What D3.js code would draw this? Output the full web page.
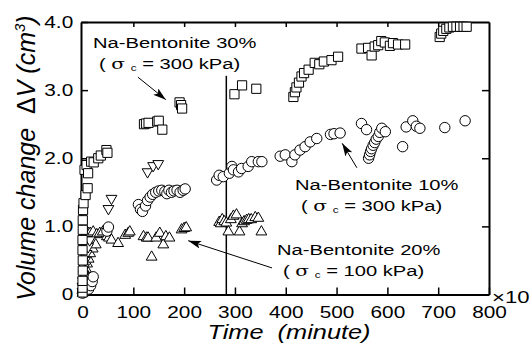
<!DOCTYPE html>
<html>
<head>
<meta charset="utf-8">
<script src="https://cdn.jsdelivr.net/npm/d3@7"></script>
<style>
body { margin: 0; background: #fff; }
text { font-family: "Liberation Sans", Arial, sans-serif; fill: #000; }
</style>
</head>
<body>
<svg id="chart" width="531" height="347"></svg>
<script>
// axis ticks (time in x10 minutes, volume in cm3)
var xTicks = [0, 100, 200, 300, 400, 500, 600, 700, 800];
var yTicks = [0, 1, 2, 3, 4];

// Na-Bentonite 30% (sigma c = 300 kPa) - squares
var bent30 = [[0,0.03],[0,0.1],[0,0.2],[0.5,0.35],[0.5,0.5],[0,0.65],[0,0.8],[0.5,0.95],[0.5,1.09],[1,1.24],[2,1.34],[6,1.46],[10,1.56],
  [4,1.83],[8,1.9],[11,1.78],[17,1.95],[22,1.94],[31,2.0],[36,2.04],[47,2.12],[49,2.08],
  [121,2.5],[125,2.51],[130,2.52],[147,2.54],[150,2.55],[157,2.42],[191,2.82],[194,2.78],[196,2.73],
  [299,2.94],[314,3.07],[342,3.02],
  [415,2.9],[418,2.97],[421,3.04],[426,3.11],[431,3.2],[436,3.25],[445,3.3],[457,3.4],[466,3.38],[475,3.42],[490,3.44],[503,3.49],
  [549,3.61],[562,3.62],[569,3.51],[575,3.64],[582,3.66],[588,3.72],[595,3.7],[605,3.65],[611,3.69],[621,3.67],[635,3.67],
  [703,3.78],[706,3.83],[710,3.87],[716,3.9],[722,3.92],[729,3.93],[736,3.93],[743,3.93],[750,3.93],[756,3.93]];

// Na-Bentonite 10% (sigma c = 300 kPa) - circles
var bent10 = [[0,0.02],[3,0.04],[8,0.07],[12,0.08],[16,0.13],[19,0.19],[21,0.26],[48,0.93],[51,0.99],
  [110,1.32],[114,1.25],[118,1.22],[124,1.3],[128,1.38],[133,1.43],[138,1.47],[144,1.5],[150,1.52],[156,1.53],[162,1.51],[166,1.48],
  [170,1.53],[175,1.5],[180,1.52],[186,1.53],[192,1.5],[198,1.53],[202,1.55],
  [264,1.68],[269,1.75],[277,1.73],[289,1.78],[294,1.88],[297,1.83],[307,1.8],[313,1.85],[326,1.88],[333,1.95],[346,1.95],[353,1.95],
  [389,2.03],[399,2.05],[412,1.95],[418,2.05],[428,2.12],[438,2.17],[448,2.24],[461,2.29],
  [488,2.35],[495,2.36],[507,2.37],[549,2.51],[559,2.42],[563,2.0],[565,2.05],[567,2.1],[569,2.14],[572,2.19],[575,2.23],[578,2.28],
  [582,2.32],[585,2.38],[589,2.44],[596,2.39],[630,2.17],[637,2.46],[650,2.55],[657,2.47],[664,2.44],[713,2.45],[753,2.55]];

// Na-Bentonite 20% (sigma c = 100 kPa) - up triangles
var bent20 = [[0,0.02],[0,0.06],[1,0.11],[2,0.17],[3,0.23],[5,0.3],[7,0.37],[9,0.45],[12,0.52],[15,0.6],[20,0.67],[26,0.73],
  [11,0.9],[15,0.9],[21,0.92],[28,0.88],[34,0.9],[40,0.92],[48,0.85],[52,0.83],[57,0.8],[70,0.75],[84,0.87],[90,0.9],[93,0.92],
  [120,0.85],[126,0.83],[129,0.83],[136,0.55],[145,0.83],[152,0.9],[159,0.73],[164,0.85],[171,0.83],[195,0.95],[200,0.97],[204,0.98],
  [269,1.06],[272,1.04],[275,1.1],[279,1.07],[283,1.05],[287,0.92],[292,1.1],[297,1.15],[303,1.17],[309,0.92],[314,1.04],[318,1.07],
  [323,1.09],[327,1.1],[332,1.1],[340,1.13],[346,1.12],[352,0.92]];

// unlabeled run - down triangles
var bentDown = [[0,0.04],[0,0.12],[1,0.2],[2,0.3],[3,0.4],[5,0.5],[8,0.6],[11,0.7],[14,0.8],[51,1.26],[57,1.41],[128,1.8],[139,1.89],[149,1.92]];

// vertical marker line: [time, top volume]
var stageLine = [283, 3.21];

// annotation arrows in data units: [x1, y1, x2, y2]
var arrows = [[109, 3.19, 164, 2.86], [540, 1.86, 511, 2.22], [373, 0.39, 208, 0.79]];

var svg = d3.select("#chart"),
    x = d3.scaleLinear().domain([-3, 800]).range([81, 489]),
    y = d3.scaleLinear().domain([0, 4]).range([294.5, 22]);

var wide = "scale(1.3,1)"; // the original font is drawn wide

function styleAxis(g) {
	g.attr("font-size", 16).attr("font-family", null);
	g.select(".domain").attr("stroke-width", 2);
	g.selectAll(".tick line").attr("stroke-width", 1.5);
	g.selectAll("text").attr("transform", wide);
}

svg.append("g")
	.attr("transform", "translate(0," + y(0) + ")")
	.call(d3.axisBottom(x).tickValues(xTicks).tickSizeInner(-7).tickSizeOuter(0).tickPadding(12))
	.call(styleAxis);

svg.append("g")
	.attr("transform", "translate(0," + y(4) + ")")
	.call(d3.axisTop(x).tickValues(xTicks.slice(1, -1)).tickSizeInner(-5).tickSizeOuter(0).tickFormat(""))
	.call(styleAxis);

svg.append("g")
	.attr("transform", "translate(" + x.range()[0] + ",0)")
	.call(d3.axisLeft(y).tickValues(yTicks).tickSizeInner(-7).tickSizeOuter(0).tickPadding(6)
		.tickFormat(function(d) { return d ? d.toFixed(1) : "0"; }))
	.call(styleAxis);

svg.append("g")
	.attr("transform", "translate(" + x.range()[1] + ",0)")
	.call(d3.axisRight(y).tickValues(yTicks.slice(1, -1)).tickSizeInner(-7).tickSizeOuter(0).tickFormat(""))
	.call(styleAxis);

// vertical line
svg.append("line")
	.attr("x1", x(stageLine[0])).attr("x2", x(stageLine[0]))
	.attr("y1", y(0)).attr("y2", y(stageLine[1]))
	.attr("stroke", "#000").attr("stroke-width", 1.5);

// markers
var shapes = {
	square: "M-4.6,-4.6h9.2v9.2h-9.2Z",
	up: "M0,-6.2L5.4,3.1L-5.4,3.1Z",
	down: "M0,6.2L5.4,-3.1L-5.4,-3.1Z"
};

function drawSeries(data, shape) {
	var g = svg.append("g");
	if (shape === "circle") {
		g.selectAll("circle").data(data).enter().append("circle")
			.attr("cx", function(d) { return x(d[0]); })
			.attr("cy", function(d) { return y(d[1]); })
			.attr("r", 5.2)
			.attr("fill", "#fff").attr("stroke", "#000").attr("stroke-width", 1);
	} else {
		g.selectAll("path").data(data).enter().append("path")
			.attr("d", shapes[shape])
			.attr("transform", function(d) { return "translate(" + x(d[0]) + "," + y(d[1]) + ")"; })
			.attr("fill", "#fff").attr("stroke", "#000").attr("stroke-width", 1);
	}
}

drawSeries(bent20, "up");
drawSeries(bentDown, "down");
drawSeries(bent10, "circle");
drawSeries(bent30, "square");

// arrows
svg.append("defs").append("marker")
	.attr("id", "head")
	.attr("markerUnits", "userSpaceOnUse")
	.attr("markerWidth", 13).attr("markerHeight", 8)
	.attr("refX", 13).attr("refY", 4)
	.attr("orient", "auto")
	.append("path").attr("d", "M0,0L13,4L0,8L3,4Z").attr("fill", "#000");

svg.selectAll(".arrow").data(arrows).enter().append("line")
	.attr("class", "arrow")
	.attr("x1", function(d) { return x(d[0]); }).attr("y1", function(d) { return y(d[1]); })
	.attr("x2", function(d) { return x(d[2]); }).attr("y2", function(d) { return y(d[3]); })
	.attr("stroke", "#000").attr("stroke-width", 1)
	.attr("marker-end", "url(#head)");

// annotation labels
function note(px, py, name, stress) {
	var g = svg.append("g").attr("font-size", 15.5);
	g.append("text").attr("transform", "translate(" + px + "," + py + ") " + wide).text(name);
	var t = g.append("text").attr("transform", "translate(" + (px + 6) + "," + (py + 21) + ") " + wide)
		.attr("xml:space", "preserve");
	t.append("tspan").text("( ");
	t.append("tspan").attr("font-family", "'DejaVu Serif', serif").text("\u03c3");
	t.append("tspan").text(" ");
	t.append("tspan").attr("font-size", 9).attr("dy", 2).text("c");
	t.append("tspan").attr("dy", -2).text(" = " + stress + " kPa)");
}

note(93, 48, "Na-Bentonite 30%", 300);
note(295, 190, "Na-Bentonite 10%", 300);
note(277, 255, "Na-Bentonite 20%", 100);

// x10 multiplier
svg.append("text")
	.attr("transform", "translate(492,303) " + wide)
	.attr("font-size", 17)
	.text("\u00d710");

// axis titles
svg.append("text")
	.attr("transform", "translate(289,339) " + wide)
	.attr("text-anchor", "middle")
	.attr("font-size", 19.5)
	.attr("font-style", "italic")
	.attr("xml:space", "preserve")
	.text("Time  (minute)");

var yt = svg.append("text")
	.attr("transform", "translate(35,158) rotate(-90)")
	.attr("text-anchor", "middle")
	.attr("font-size", 25)
	.attr("font-style", "italic")
	.attr("xml:space", "preserve");
yt.append("tspan").text("Volume change  ");
yt.append("tspan").attr("font-style", "normal").text("\u0394");
yt.append("tspan").text("V (cm");
yt.append("tspan").attr("font-size", 15).attr("dy", -10).text("3");
yt.append("tspan").attr("dy", 10).text(")");
</script>
</body>
</html>
